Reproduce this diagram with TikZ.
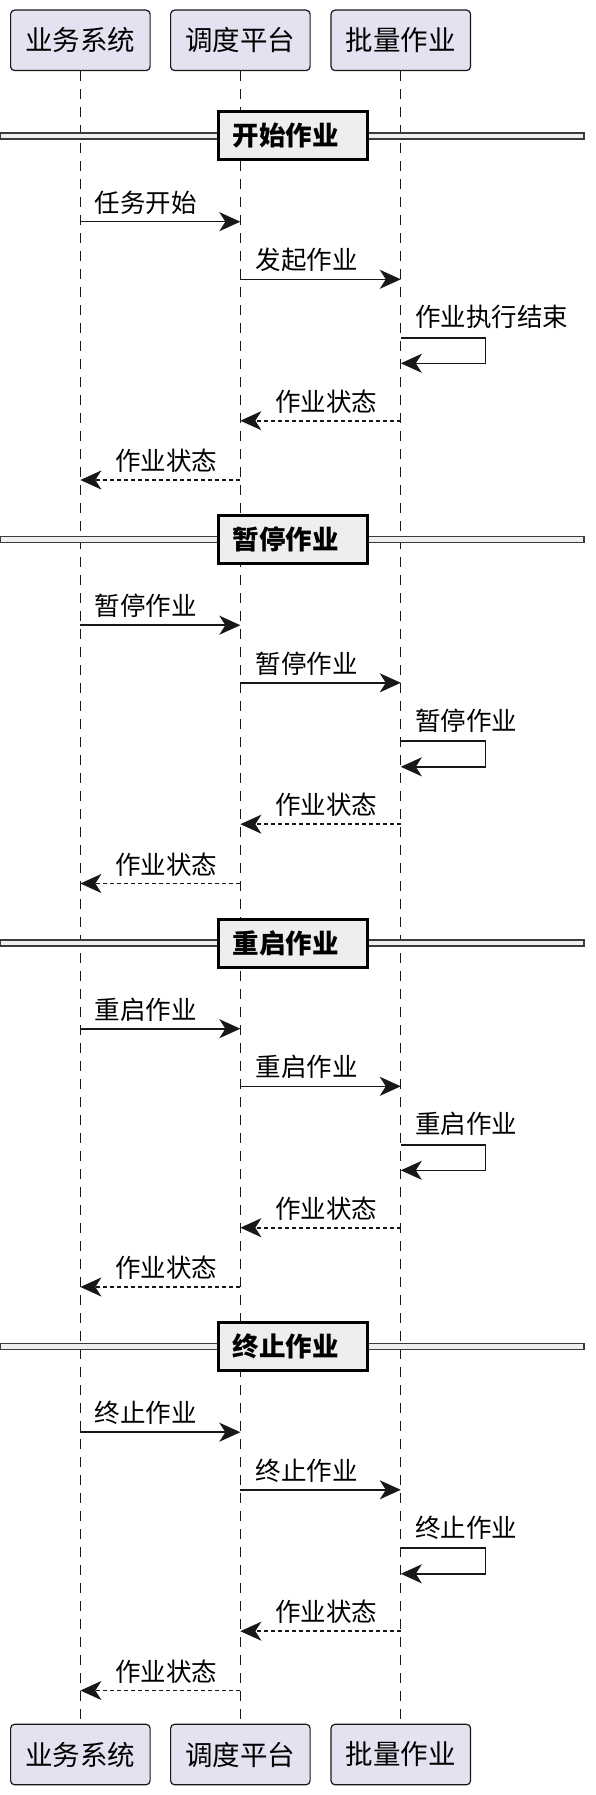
\documentclass[tikz,border=0pt]{standalone}
\usepackage{fontspec}
\setmainfont{Noto Sans CJK SC}
\usetikzlibrary{arrows.meta}
\definecolor{partfill}{HTML}{E2E2F0}
\definecolor{linec}{HTML}{181818}
\definecolor{divfill}{HTML}{EEEEEE}
\tikzset{
  participant/.style={draw=linec, fill=partfill, line width=1.2pt, rounded corners=4pt,
    minimum width=139.5pt, minimum height=60.5pt, inner sep=0pt,
    font=\fontsize{27.5}{30}\selectfont},
  lifeline/.style={draw=linec, line width=1.2pt, dash pattern=on 10pt off 8pt},
  msg/.style={draw=linec, line width=1.6pt, -{Stealth[length=21pt,width=19pt,inset=6pt]}},
  ret/.style={msg, dash pattern=on 4pt off 3pt},
  lbl/.style={anchor=west, inner sep=0pt, font=\fontsize{25.5}{28}\selectfont},
  divband/.style={draw=linec!85, fill=divfill, line width=1.8pt},
  divbox/.style={draw=black, fill=divfill, line width=3pt, inner xsep=14pt, inner ysep=0pt,
    minimum height=48pt, anchor=west, font=\fontsize{26.5}{28}\selectfont\bfseries},
}
\begin{document}
\begin{tikzpicture}[x=1pt,y=-1pt]
\useasboundingbox (0,0) rectangle (596,1795);
\def\xa{80.35}\def\xb{240.35}\def\xc{400.8}
% participants
\node[participant] (p1t) at (\xa,40.35) {业务系统};
\node[participant] (p2t) at (\xb,40.35) {调度平台};
\node[participant] (p3t) at (\xc,40.35) {批量作业};
\node[participant] (p1b) at (\xa,1754.5) {业务系统};
\node[participant] (p2b) at (\xb,1754.5) {调度平台};
\node[participant] (p3b) at (\xc,1754.5) {批量作业};
% lifelines
\draw[lifeline] (p1t.south) -- (p1b.north);
\draw[lifeline] (p2t.south) -- (p2b.north);
\draw[lifeline] (p3t.south) -- (p3b.north);
% sections
\foreach \s/\D/\title/\ma/\mb/\mc in {
  1/136/开始作业/任务开始/发起作业/作业执行结束,
  2/539.5/暂停作业/暂停作业/暂停作业/暂停作业,
  3/943/重启作业/重启作业/重启作业/重启作业,
  4/1346.5/终止作业/终止作业/终止作业/终止作业}{
  % divider
  \draw[divband] (0,\D-3) rectangle (584,\D+3);
  \node[divbox] (div\s) at (217,\D) {\makebox[121pt][l]{\title}};
  % message 1
  \coordinate (s\s m1a) at (\xa,\D+85.7);
  \coordinate (s\s m1b) at (\xb,\D+85.7);
  \draw[msg] (s\s m1a) -- (s\s m1b);
  \node[lbl] (s\s l1) at (\xa+14,\D+66.5) {\ma};
  % message 2
  \coordinate (s\s m2a) at (\xb,\D+143.3);
  \coordinate (s\s m2b) at (\xc,\D+143.3);
  \draw[msg] (s\s m2a) -- (s\s m2b);
  \node[lbl] (s\s l2) at (\xb+15,\D+124.3) {\mb};
  % self message
  \coordinate (s\s m3a) at (\xc,\D+201.7);
  \coordinate (s\s m3b) at (\xc,\D+227.3);
  \draw[msg] (s\s m3a) -- ++(84.5,0) |- (s\s m3b);
  \node[lbl] (s\s l3) at (\xc+14,\D+181) {\mc};
  % return 1
  \coordinate (s\s m4a) at (\xc,\D+284.7);
  \coordinate (s\s m4b) at (\xb,\D+284.7);
  \draw[ret] (s\s m4a) -- (s\s m4b);
  \node[lbl] (s\s l4) at (\xb+34.5,\D+265.5) {作业状态};
  % return 2
  \coordinate (s\s m5a) at (\xb,\D+344);
  \coordinate (s\s m5b) at (\xa,\D+344);
  \draw[ret] (s\s m5a) -- (s\s m5b);
  \node[lbl] (s\s l5) at (\xa+34.5,\D+325) {作业状态};
}
\end{tikzpicture}
\end{document}
